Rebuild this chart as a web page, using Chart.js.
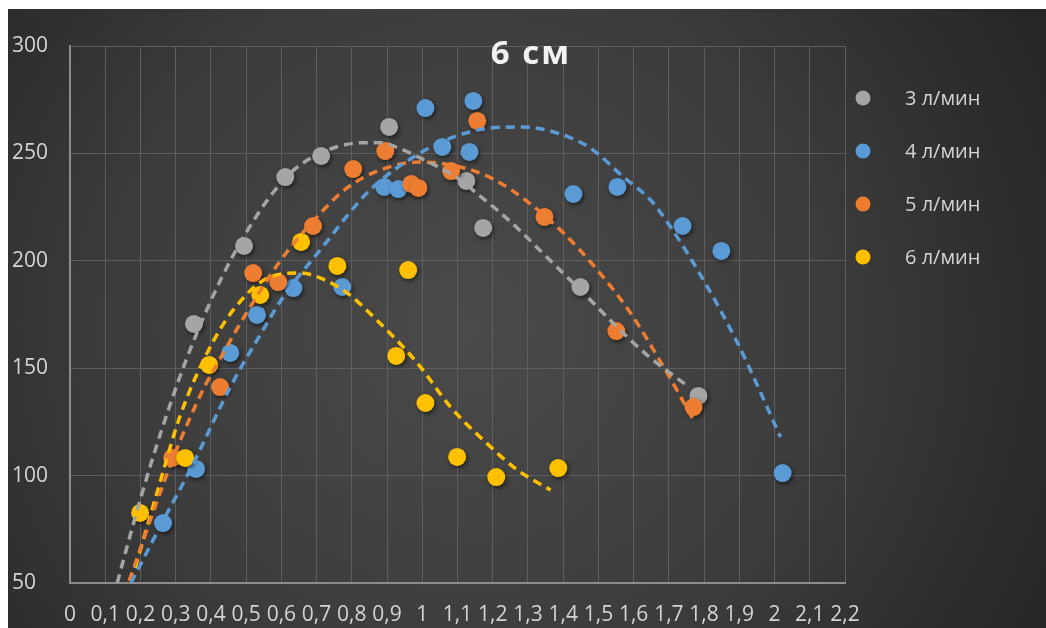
<!DOCTYPE html>
<html>
<head>
<meta charset="utf-8">
<style>
  html, body { margin: 0; padding: 0; background: #ffffff; }
  #wrap { width: 1046px; height: 628px; }
</style>
<script src="https://cdn.jsdelivr.net/npm/chart.js@4/dist/chart.umd.min.js"></script>
</head>
<body>
<div id="wrap"><canvas id="c" width="1046" height="628"></canvas></div>
<script>
// Series labels and colours
const seriesLabels = ['3 л/мин', '4 л/мин', '5 л/мин', '6 л/мин'];
const seriesColors = ['#a5a5a5', '#5b9bd5', '#ed7d31', '#ffc000'];
const chartTitle = '6 см';

// Measured points, 3 l/min
const flow3X = [0.352, 0.494, 0.611, 0.713, 0.906, 1.125, 1.173, 1.449, 1.784];
const flow3Y = [170.6, 206.9, 239, 248.8, 262.3, 237.2, 215.3, 187.8, 137.1];

// Measured points, 4 l/min
const flow4X = [0.264, 0.358, 0.455, 0.531, 0.634, 0.773, 0.892, 0.932, 1.009, 1.057, 1.134, 1.145, 1.429, 1.554, 1.739, 1.849, 2.023];
const flow4Y = [77.9, 103.1, 157.1, 174.8, 187.3, 187.8, 234.4, 233.4, 271.1, 253, 250.7, 274.4, 231.1, 234.4, 216.2, 204.6, 101.2];

// Measured points, 5 l/min
const flow5X = [0.290, 0.426, 0.520, 0.591, 0.690, 0.804, 0.895, 0.969, 0.989, 1.082, 1.156, 1.347, 1.551, 1.770];
const flow5Y = [108.2, 141.2, 194.3, 190.1, 216.2, 242.7, 251.1, 235.8, 233.9, 241.8, 265.1, 220.4, 167.3, 131.9];

// Measured points, 6 l/min
const flow6X = [0.199, 0.327, 0.395, 0.540, 0.656, 0.759, 0.926, 0.960, 1.009, 1.099, 1.210, 1.386];
const flow6Y = [82.6, 108.2, 151.5, 184.1, 208.8, 197.6, 155.7, 195.7, 133.8, 108.7, 99.3, 103.5];

// Trend curves (dashed), sampled along each curve
const trend3X = [0.134, 0.18, 0.23, 0.28, 0.33, 0.38, 0.43, 0.48, 0.53, 0.58, 0.63, 0.68, 0.73, 0.78, 0.83, 0.88, 0.94, 0.994, 1.051, 1.108, 1.165, 1.222, 1.278, 1.327, 1.364, 1.449, 1.554, 1.639, 1.753];
const trend3Y = [50, 77.6, 105.6, 131, 154, 174, 192, 207.5, 221, 232.5, 241.5, 247.5, 251.5, 254, 255, 255, 252, 247.9, 243.2, 237.6, 230, 222.3, 214, 206, 200, 186.4, 169, 156, 141.7];

const trend4X = [0.173, 0.276, 0.341, 0.455, 0.548, 0.605, 0.710, 0.852, 0.994, 1.088, 1.193, 1.287, 1.383, 1.477, 1.571, 1.648, 1.705, 1.798, 1.895, 2.017];
const trend4Y = [50, 82.6, 102.6, 141.2, 167.8, 183.1, 205, 233, 250.2, 257.6, 261.8, 262.3, 259.5, 252.5, 239, 228.3, 215.7, 191.1, 161.7, 118];

const trend5X = [0.168, 0.247, 0.290, 0.341, 0.384, 0.435, 0.491, 0.597, 0.710, 0.787, 0.881, 0.994, 1.108, 1.202, 1.303, 1.401, 1.497, 1.591, 1.685, 1.770];
const trend5Y = [51, 88, 107, 127, 142, 157, 173, 200, 222, 234, 242.3, 246, 243.7, 238, 227, 212.9, 195.7, 175.7, 150.6, 125.9];

const trend6X = [0.185, 0.247, 0.313, 0.389, 0.463, 0.568, 0.653, 0.710, 0.787, 0.861, 0.986, 1.080, 1.173, 1.270, 1.364];
const trend6Y = [57, 92, 128, 157, 177, 192.5, 194.3, 192, 185, 174, 152.4, 132, 116.6, 102.6, 93.3];

// Axis tick labels
const xTickLabels = ['0', '0,1', '0,2', '0,3', '0,4', '0,5', '0,6', '0,7', '0,8', '0,9', '1', '1,1', '1,2', '1,3', '1,4', '1,5', '1,6', '1,7', '1,8', '1,9', '2', '2,1', '2,2'];
const yTickLabels = ['50', '100', '150', '200', '250', '300'];

const toPoints = (xs, ys) => xs.map((x, i) => ({ x: x, y: ys[i] }));

const pointSets = [
  [flow3X, flow3Y], [flow4X, flow4Y], [flow5X, flow5Y], [flow6X, flow6Y]
];
const trendSets = [
  [trend3X, trend3Y], [trend4X, trend4Y], [trend5X, trend5Y], [trend6X, trend6Y]
];

const datasets = [];
pointSets.forEach((s, i) => {
  datasets.push({
    label: seriesLabels[i],
    data: toPoints(s[0], s[1]),
    backgroundColor: seriesColors[i],
    borderColor: seriesColors[i],
    borderWidth: 0,
    pointRadius: 9,
    pointHoverRadius: 9,
    order: 4 - i,
    isMarkers: true
  });
});
trendSets.forEach((s, i) => {
  datasets.push({
    label: 'trend ' + seriesLabels[i],
    data: toPoints(s[0], s[1]),
    showLine: true,
    borderColor: seriesColors[i],
    borderWidth: 3.5,
    borderDash: [9, 6],
    borderCapStyle: 'butt',
    pointRadius: 0,
    fill: false,
    cubicInterpolationMode: 'monotone',
    order: 0,
    isTrend: true
  });
});

const FONT = '"Open Sans", "DejaVu Sans", sans-serif';

// Dark backdrop with a soft light centre
const backdrop = {
  id: 'backdrop',
  beforeDraw(chart) {
    const ctx = chart.ctx;
    ctx.save();
    ctx.fillStyle = '#ffffff';
    ctx.fillRect(0, 0, chart.width, chart.height);
    const g = ctx.createRadialGradient(470, 330, 0, 470, 330, 640);
    g.addColorStop(0, '#4a4a4a');
    g.addColorStop(0.55, '#3c3c3c');
    g.addColorStop(1, '#262626');
    ctx.fillStyle = g;
    ctx.fillRect(8, 9, chart.width - 8, chart.height - 9);
    ctx.restore();
  }
};

// Drop shadow under the round markers
const markerShadow = {
  id: 'markerShadow',
  beforeDatasetDraw(chart, args) {
    if (!chart.data.datasets[args.index].isMarkers) return;
    const ctx = chart.ctx;
    ctx.save();
    ctx.shadowColor = 'rgba(0,0,0,0.55)';
    ctx.shadowBlur = 4;
    ctx.shadowOffsetX = 1.5;
    ctx.shadowOffsetY = 2;
  },
  afterDatasetDraw(chart, args) {
    if (!chart.data.datasets[args.index].isMarkers) return;
    chart.ctx.restore();
  }
};

// Title and right-hand legend
const overlay = {
  id: 'overlay',
  afterDraw(chart) {
    const ctx = chart.ctx;
    ctx.save();
    ctx.fillStyle = '#f2f2f2';
    ctx.font = 'bold 33px ' + FONT;
    ctx.textAlign = 'center';
    ctx.textBaseline = 'middle';
    if ('letterSpacing' in ctx) ctx.letterSpacing = '2px';
    ctx.fillText(chartTitle, 531, 55);
    if ('letterSpacing' in ctx) ctx.letterSpacing = '0px';

    ctx.font = '20px ' + FONT;
    ctx.textAlign = 'left';
    chart.data.datasets.filter(d => d.isMarkers).forEach((d, i) => {
      const y = 98 + i * 53;
      ctx.beginPath();
      ctx.fillStyle = d.backgroundColor;
      ctx.arc(863, y, 7.5, 0, Math.PI * 2);
      ctx.fill();
      ctx.fillStyle = '#d4d4d4';
      ctx.fillText(d.label, 905, y + 1);
    });
    ctx.restore();
  }
};

new Chart(document.getElementById('c'), {
  type: 'scatter',
  data: { datasets: datasets },
  options: {
    responsive: false,
    animation: false,
    events: [],
    layout: { padding: { top: 46, right: 201, left: 12, bottom: 0 } },
    plugins: {
      legend: { display: false },
      title: { display: false },
      tooltip: { enabled: false }
    },
    scales: {
      x: {
        type: 'linear',
        min: 0,
        max: 2.2,
        afterFit(scale) { scale.height = 45; },
        afterBuildTicks(scale) {
          scale.ticks = xTickLabels.map((t, i) => ({ value: i / 10 }));
        },
        ticks: {
          autoSkip: false,
          maxRotation: 0,
          minRotation: 0,
          padding: 19,
          color: '#d4d4d4',
          font: { family: FONT, size: 21 },
          callback: (v, i) => xTickLabels[i]
        },
        grid: { color: '#5e5e5e', lineWidth: 1, drawTicks: false },
        border: { color: '#8c8c8c', width: 2 }
      },
      y: {
        type: 'linear',
        min: 50,
        max: 300,
        afterFit(scale) { scale.width = 58; },
        afterBuildTicks(scale) {
          scale.ticks = yTickLabels.map(t => ({ value: Number(t) }));
        },
        ticks: {
          crossAlign: 'far',
          color: '#d4d4d4',
          font: { family: FONT, size: 21 },
          callback: (v, i) => yTickLabels[i]
        },
        grid: { color: '#5e5e5e', lineWidth: 1, drawTicks: false },
        border: { color: '#8c8c8c', width: 2 }
      }
    }
  },
  plugins: [backdrop, markerShadow, overlay]
});
</script>
</body>
</html>
